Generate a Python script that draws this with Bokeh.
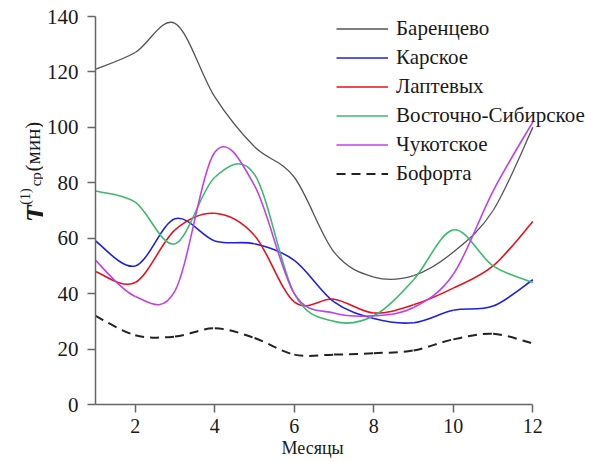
import numpy as np
from bokeh.plotting import figure
from bokeh.layouts import row
from bokeh.models import Range1d, FixedTicker, Legend, LegendItem, Title
from bokeh.core.properties import value
from bokeh.embed import file_html
from bokeh.resources import INLINE

months = [1, 2, 3, 4, 5, 6, 7, 8, 9, 10, 11, 12]
barents = [121, 127, 137.5, 111, 93, 82, 55, 46, 46.5, 55, 70, 100]
kara = [59, 50, 67, 59, 58, 52, 37, 31, 29.5, 34, 35.5, 45]
laptev = [48, 44, 63, 69, 61, 37, 38, 33, 36, 42, 50, 66]
east_sib = [77, 73, 58, 82, 83, 40, 30, 32, 45, 63, 50, 44]
chukchi = [52, 39, 41, 91, 79, 40, 33, 32, 35, 47, 77, 102]
beaufort = [32, 25, 24.5, 27.5, 24, 18, 18, 18.5, 19.5, 23.5, 25.5, 22]

names = ["Баренцево", "Карское", "Лаптевых", "Восточно-Сибирское", "Чукотское", "Бофорта"]
series = [barents, kara, laptev, east_sib, chukchi, beaufort]
colors = ["#555555", "#1f1fe6", "#e8101c", "#3cba6e", "#c040f0", "#222222"]
widths = [1.3, 1.6, 1.6, 1.6, 1.6, 2.0]
dashes = ["solid", "solid", "solid", "solid", "solid", "9 6"]

x_ticks = [2, 4, 6, 8, 10, 12]
y_ticks = [0, 20, 40, 60, 80, 100, 120, 140]
x_title = "Месяцы"

FONT = "Times New Roman"

LW = 43          # width of the side strip holding the rotated y label
H = 461
MAIN_W = 591 - LW
BORDER_L = 92 - LW   # so that the frame starts at x = 92 on the page
BORDER_B = 57
PX_PER_MONTH = 40.0
x_end = 1 + (MAIN_W - BORDER_L) / PX_PER_MONTH
PX_PER_UNIT = 388.0 / 140.0
y_end = (H - BORDER_B) / PX_PER_UNIT   # frame reaches the top edge; axis stops at 140

p = figure(width=MAIN_W, height=H, output_backend="svg", toolbar_location=None,
           x_range=Range1d(1, x_end), y_range=Range1d(0, y_end),
           min_border_left=BORDER_L, min_border_right=0, min_border_top=0,
           min_border_bottom=BORDER_B)
p.outline_line_color = None
p.xgrid.visible = False
p.ygrid.visible = False

for axes in (p.xaxis, p.yaxis):
    axes.axis_line_color = "#666666"
    axes.axis_line_width = 1.5
    axes.major_tick_line_color = "#666666"
    axes.major_tick_line_width = 1.5
    axes.major_tick_out = 8
    axes.major_tick_in = 0
    axes.minor_tick_line_color = None
    axes.major_label_text_font = FONT
    axes.major_label_text_font_style = "normal"
    axes.major_label_text_color = "#1a1a1a"

p.xaxis.major_label_text_font_size = "20px"
p.yaxis.major_label_text_font_size = "21px"
p.xaxis.bounds = (1, 12)
p.yaxis.bounds = (0, 140)
p.xaxis.ticker = FixedTicker(ticks=x_ticks)
p.yaxis.ticker = FixedTicker(ticks=y_ticks)
p.xaxis.major_label_standoff = 6
p.yaxis.major_label_standoff = 9

# x axis title placed below the axis, centred under the 1..12 span
xt = Title(text=x_title, align="left", offset=186, standoff=0,
           text_font=FONT, text_font_size="18px", text_font_style="normal",
           text_color="#1a1a1a")
p.add_layout(xt, "below")


def bezier_parts(xs, ys, k=1.0 / 6.0):
    xs = np.asarray(xs, dtype=float)
    ys = np.asarray(ys, dtype=float)
    n = len(xs)
    px = np.concatenate([[xs[0]], xs, [xs[-1]]])
    py = np.concatenate([[ys[0]], ys, [ys[-1]]])
    out = {k_: [] for k_ in ("x0", "y0", "x1", "y1", "cx0", "cy0", "cx1", "cy1")}
    for i in range(n - 1):
        a, b, c, d = i, i + 1, i + 2, i + 3
        out["x0"].append(px[b]); out["y0"].append(py[b])
        out["x1"].append(px[c]); out["y1"].append(py[c])
        out["cx0"].append(px[b] + (px[c] - px[a]) * k)
        out["cy0"].append(py[b] + (py[c] - py[a]) * k)
        out["cx1"].append(px[c] - (px[d] - px[b]) * k)
        out["cy1"].append(py[c] - (py[d] - py[b]) * k)
    return out


items = []
for name, ys, col, w, dsh in zip(names, series, colors, widths, dashes):
    d = bezier_parts(months, ys)
    r = p.bezier(x0=d["x0"], y0=d["y0"], x1=d["x1"], y1=d["y1"],
                 cx0=d["cx0"], cy0=d["cy0"], cx1=d["cx1"], cy1=d["cy1"],
                 line_color=col, line_width=w, line_dash=dsh)
    items.append(LegendItem(label=name, renderers=[r]))

legend = Legend(items=items, location=(241, 218), orientation="vertical",
                border_line_color=None, background_fill_alpha=0,
                label_text_font=FONT, label_text_font_size="21px",
                label_text_font_style="normal",
                label_text_color="#1a1a1a",
                glyph_width=52, glyph_height=25, label_height=25,
                label_standoff=8, spacing=4, padding=0, margin=0)
p.add_layout(legend, "center")

# narrow strip with the rotated y-axis title  T^(1)_ср (мин)
s = figure(width=LW, height=H, output_backend="svg", toolbar_location=None,
           x_range=Range1d(0, LW), y_range=Range1d(0, H),
           x_axis_location=None, y_axis_location=None,
           min_border_left=0, min_border_right=0, min_border_top=0, min_border_bottom=0)
s.outline_line_color = None
s.xgrid.visible = False
s.ygrid.visible = False

def lab(text, cx, cy, size, style="normal"):
    s.text(x=[cx], y=[H - cy], text=[text], angle=np.pi / 2,
           text_align="left", text_baseline="alphabetic",
           text_font=value(FONT), text_font_size=value(size),
           text_font_style=value(style), text_color="#1a1a1a")

lab("T", 35, 253, "28px", "bold italic")
lab("(1)", 25, 233, "14px")
lab("ср", 35, 212, "15px")
lab("(мин)", 32, 195, "21px")

layout = row(s, p, spacing=0)
open("out.html", "w").write(file_html(layout, INLINE))
